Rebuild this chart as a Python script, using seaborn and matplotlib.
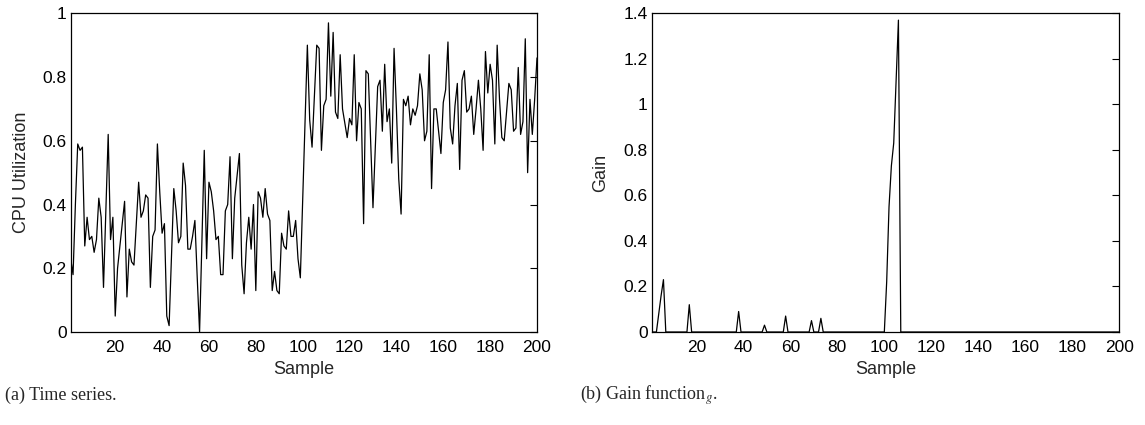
import numpy as np
import pandas as pd
import matplotlib
matplotlib.use("Agg")
import matplotlib.pyplot as plt
import seaborn as sns

# ---- data ----
samples = list(range(1, 201))

cpu_utilization = [
    0.23, 0.18, 0.40, 0.59, 0.57, 0.58, 0.27, 0.36, 0.29, 0.30,
    0.25, 0.29, 0.42, 0.36, 0.14, 0.38, 0.62, 0.29, 0.36, 0.05,
    0.20, 0.27, 0.34, 0.41, 0.11, 0.26, 0.22, 0.21, 0.34, 0.47,
    0.36, 0.38, 0.43, 0.42, 0.14, 0.30, 0.32, 0.59, 0.44, 0.31,
    0.34, 0.05, 0.02, 0.24, 0.45, 0.38, 0.28, 0.30, 0.53, 0.46,
    0.26, 0.26, 0.30, 0.35, 0.17, 0.00, 0.28, 0.57, 0.23, 0.47,
    0.44, 0.38, 0.29, 0.30, 0.18, 0.18, 0.38, 0.40, 0.55, 0.23,
    0.42, 0.49, 0.56, 0.21, 0.12, 0.28, 0.36, 0.26, 0.40, 0.13,
    0.44, 0.42, 0.36, 0.45, 0.37, 0.35, 0.13, 0.19, 0.13, 0.12,
    0.31, 0.27, 0.26, 0.38, 0.30, 0.30, 0.35, 0.23, 0.17, 0.41,
    0.65, 0.90, 0.665, 0.58, 0.74, 0.90, 0.89, 0.57, 0.71, 0.73,
    0.97, 0.74, 0.94, 0.69, 0.67, 0.87, 0.70, 0.655, 0.61, 0.67,
    0.65, 0.87, 0.60, 0.72, 0.70, 0.34, 0.82, 0.81, 0.60, 0.39,
    0.58, 0.77, 0.79, 0.63, 0.84, 0.66, 0.70, 0.53, 0.89, 0.70,
    0.48, 0.37, 0.73, 0.71, 0.74, 0.65, 0.70, 0.68, 0.71, 0.81,
    0.76, 0.60, 0.63, 0.87, 0.45, 0.70, 0.70, 0.63, 0.56, 0.72,
    0.76, 0.91, 0.64, 0.59, 0.71, 0.78, 0.51, 0.79, 0.82, 0.69,
    0.70, 0.74, 0.62, 0.70, 0.79, 0.70, 0.57, 0.88, 0.75, 0.84,
    0.79, 0.59, 0.90, 0.73, 0.61, 0.60, 0.69, 0.78, 0.76, 0.63,
    0.64, 0.83, 0.62, 0.66, 0.92, 0.50, 0.73, 0.62, 0.73, 0.86,
]

# non-zero gain values (sample -> gain); all other samples have gain 0
gain_samples = [4, 5, 6, 17, 38, 49, 58, 69, 73, 101, 102, 103, 104, 105, 106]
gain_values = [0.08, 0.16, 0.23, 0.12, 0.09, 0.03, 0.07, 0.05, 0.06,
               0.22, 0.55, 0.73, 0.83, 1.10, 1.37]

gain = [0.0] * len(samples)
for s, g in zip(gain_samples, gain_values):
    gain[s - 1] = g

x_ticks = [20, 40, 60, 80, 100, 120, 140, 160, 180, 200]
cpu_yticks = [0, 0.2, 0.4, 0.6, 0.8, 1.0]
cpu_yticklabels = ["0", "0.2", "0.4", "0.6", "0.8", "1"]
gain_yticks = [0, 0.2, 0.4, 0.6, 0.8, 1.0, 1.2, 1.4]
gain_yticklabels = ["0", "0.2", "0.4", "0.6", "0.8", "1", "1.2", "1.4"]

df_cpu = pd.DataFrame({"Sample": samples, "CPU Utilization": cpu_utilization})
df_gain = pd.DataFrame({"Sample": samples, "Gain": gain})

# ---- style ----
sns.set_style("white")
plt.rcParams["font.family"] = ["Liberation Sans", "DejaVu Sans"]
plt.rcParams["mathtext.fontset"] = "stix"

W, H = 1145, 425
fig = plt.figure(figsize=(W / 100, H / 100), dpi=100)

def px_axes(x0, x1, ytop, ybot):
    return fig.add_axes([x0 / W, 1 - ybot / H, (x1 - x0) / W, (ybot - ytop) / H])

ax1 = px_axes(70.7, 537, 13.3, 332)
ax2 = px_axes(651.7, 1119.3, 13.3, 332)

sns.lineplot(data=df_cpu, x="Sample", y="CPU Utilization", ax=ax1,
             color="black", linewidth=0.9)
sns.lineplot(data=df_gain, x="Sample", y="Gain", ax=ax2,
             color="black", linewidth=0.9)

for ax, yt, ytl, ylim in [(ax1, cpu_yticks, cpu_yticklabels, (0, 1)),
                          (ax2, gain_yticks, gain_yticklabels, (0, 1.4))]:
    ax.set_xlim(1, 200)
    ax.set_ylim(*ylim)
    ax.set_xticks(x_ticks)
    ax.set_xticklabels([str(t) for t in x_ticks])
    ax.set_yticks(yt)
    ax.set_yticklabels(ytl)
    ax.tick_params(axis="both", direction="in", length=5, width=0.8,
                   labelsize=12.5, colors="black")
    ax.tick_params(axis="y", right=True, pad=3)
    ax.tick_params(axis="x", pad=6)
    for sp in ax.spines.values():
        sp.set_visible(True)
        sp.set_color("black")
        sp.set_linewidth(0.9)
    ax.set_xlabel("Sample", fontsize=13, labelpad=4)
    ax.grid(False)

ax1.set_ylabel("CPU Utilization", fontsize=13, labelpad=9)
ax2.set_ylabel("Gain", fontsize=13, labelpad=10)

fig.text(5 / W, 1 - 395 / H, "(a) Time series.", family="Liberation Serif",
         fontsize=13, va="center", ha="left")
fig.text(580 / W, 1 - 395 / H, "(b) Gain function$_{g}$.", family="Liberation Serif",
         fontsize=13, va="center", ha="left")

fig.savefig("out.png", dpi=100)
